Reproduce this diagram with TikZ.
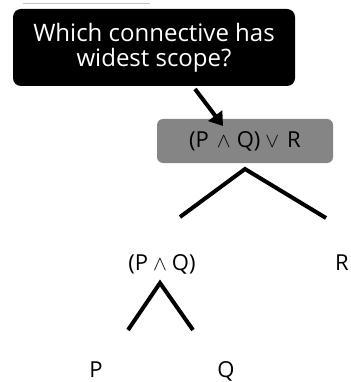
\documentclass[tikz,border=0pt]{standalone}
\usepackage{fontspec}
\setmainfont{Open Sans}
\usetikzlibrary{arrows.meta}
\definecolor{boxgray}{HTML}{858585}
\definecolor{rulegray}{HTML}{C4C4C4}
\newcommand{\opgap}[1]{\hskip #1pt\relax}
\tikzset{
  question/.style={fill=black, text=white, rounded corners=8pt, minimum width=282pt,
    minimum height=77pt, align=center, inner sep=0pt,
    font=\fontsize{24}{25}\selectfont},
  rootbox/.style={fill=boxgray, rounded corners=6pt, minimum width=176pt,
    minimum height=44pt, inner sep=0pt, font=\fontsize{22}{22}\selectfont},
  leaf/.style={anchor=base, inner sep=0pt, font=\fontsize{22}{22}\selectfont},
  branch/.style={line width=4pt},
  pointer/.style={line width=4pt, -{Triangle[length=13pt,width=17pt]}},
}
\begin{document}
\begin{tikzpicture}[x=1pt,y=-1pt]
  \useasboundingbox (0,0) rectangle (350,382);
  % thin rule above the question box
  \coordinate (r1) at (23,4);
  \coordinate (r2) at (150,4);
  \draw[rulegray, line width=1pt] (r1) -- (r2);
  % question callout
  \node[question] (q) at (154,47.5) {Which connective has\\widest scope?};
  % root formula
  \node[rootbox] (root) at (245,141) {(P\opgap{8}$\wedge$\opgap{6}Q)\opgap{5}$\vee$\opgap{8}R};
  \coordinate (tail) at (195,89);
  \coordinate (tip) at (223,126);
  \draw[pointer] (tail) -- (tip);
  % first split
  \coordinate (top1) at (245,169);
  \coordinate (l1) at (180,217);
  \coordinate (r1b) at (326,218);
  \draw[branch] (l1) -- (top1) -- (r1b);
  \node[leaf] (pq) at (162,270) {(P\opgap{5}$\wedge$\opgap{5}Q)};
  \node[leaf] (r) at (342,270) {R};
  % second split
  \coordinate (top2) at (160,283);
  \coordinate (l2) at (128,330);
  \coordinate (r2b) at (193,330);
  \draw[branch] (l2) -- (top2) -- (r2b);
  \node[leaf] (p) at (96,377) {P};
  \node[leaf] (qq) at (226,377) {Q};
\end{tikzpicture}
\end{document}
